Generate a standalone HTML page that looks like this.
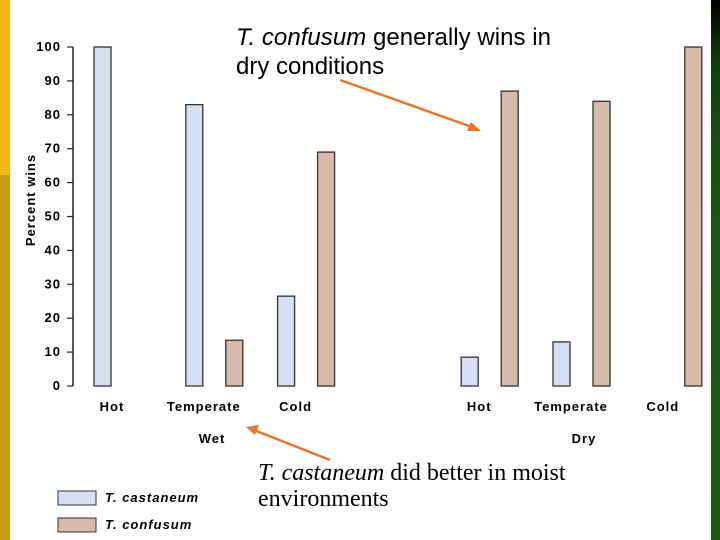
<!DOCTYPE html>
<html><head><meta charset="utf-8"><style>
body{margin:0;background:#fff;}
svg{display:block;font-family:"Liberation Sans",Arial,sans-serif;}
.t{font-weight:bold;font-size:13px;letter-spacing:1px;}
</style></head><body>
<svg width="720" height="540">
<rect x="0" y="0" width="10" height="175" fill="#f2b81a"/>
<rect x="0" y="175" width="10" height="365" fill="#c99c0c"/>
<defs><linearGradient id="g" x1="0" y1="0" x2="0" y2="1"><stop offset="0" stop-color="#000"/><stop offset="0.12" stop-color="#123f0c"/><stop offset="0.4" stop-color="#1b5512"/><stop offset="1" stop-color="#1d5a12"/></linearGradient></defs>
<rect x="711" y="0" width="9" height="540" fill="url(#g)"/>
<g id="axis"></g>
<g id="bars"></g>
<text x="35" y="200" class="t" text-anchor="middle" transform="rotate(-90 35 200)">Percent wins</text>
<text x="212" y="443" class="t" text-anchor="middle">Wet</text>
<text x="584" y="443" class="t" text-anchor="middle">Dry</text>
<rect x="58" y="491" width="38" height="14" fill="#d6e0f5" stroke="#333"/>
<text x="105" y="502" class="t" font-style="italic">T. castaneum</text>
<rect x="58" y="518" width="38" height="14" fill="#d7baa8" stroke="#333"/>
<text x="105" y="529" class="t" font-style="italic">T. confusum</text>
<text x="236" y="45" font-size="24" textLength="315"><tspan font-style="italic">T. confusum</tspan> generally wins in</text>
<text x="236" y="74" font-size="24">dry conditions</text>
<text x="258" y="480" font-size="24" font-family="Liberation Serif,serif"><tspan font-style="italic">T. castaneum</tspan> did better in moist</text>
<text x="258" y="506" font-size="24" font-family="Liberation Serif,serif">environments</text>
<line x1="340" y1="80" x2="472" y2="127" stroke="#e8742a" stroke-width="2.5"/>
<polygon points="481,131 467,131 471,122" fill="#e8742a"/>
<line x1="330" y1="460" x2="254" y2="430" stroke="#e8742a" stroke-width="2.5"/>
<polygon points="246,427 259,425 255,435" fill="#e8742a"/>
</svg>
<script>
const categories=["Hot","Temperate","Cold","Hot","Temperate","Cold"];
const slots=[0,1,2,4,5,6];
const castaneum=[100,83,26.5,8.5,13,0];
const confusum=[0,13.5,69,87,84,100];
const yTicks=[0,10,20,30,40,50,60,70,80,90,100];
const NS="http://www.w3.org/2000/svg";
const y=v=>386-v*3.39;
const xc=s=>122+s*91.8;
function mk(t,a,p){const e=document.createElementNS(NS,t);for(const k in a)e.setAttribute(k,a[k]);p.appendChild(e);return e;}
const ax=document.getElementById('axis'),bg=document.getElementById('bars');
const al=mk('line',{x1:73,y1:y(100),x2:73,y2:y(0),stroke:'#222','stroke-width':1.5},ax);


yTicks.forEach(v=>{
 const l=mk('line',{x1:67,y1:y(v),x2:73,y2:y(v),stroke:'#222','stroke-width':1.2},ax);
 
 
 const t=mk('text',{x:61,y:y(v)+4,'text-anchor':'end',class:'t','font-size':12},ax);
 
 
 t.textContent=v;
});
categories.forEach((c,i)=>{
 const cx=xc(slots[i]);
 if(castaneum[i]>0){const r=mk('rect',{x:cx-28,y:y(castaneum[i]),width:17,height:y(0)-y(castaneum[i]),fill:'#d6e0f5',stroke:'#333','stroke-width':1.3},bg);
 
 }
 if(confusum[i]>0){const r=mk('rect',{x:cx+12,y:y(confusum[i]),width:17,height:y(0)-y(confusum[i]),fill:'#d7baa8',stroke:'#333','stroke-width':1.3},bg);
 
 }
 const t=mk('text',{x:cx-10,y:411,'text-anchor':'middle',class:'t'},bg);
 
 
 t.textContent=c;
});
</script>
</body></html>
